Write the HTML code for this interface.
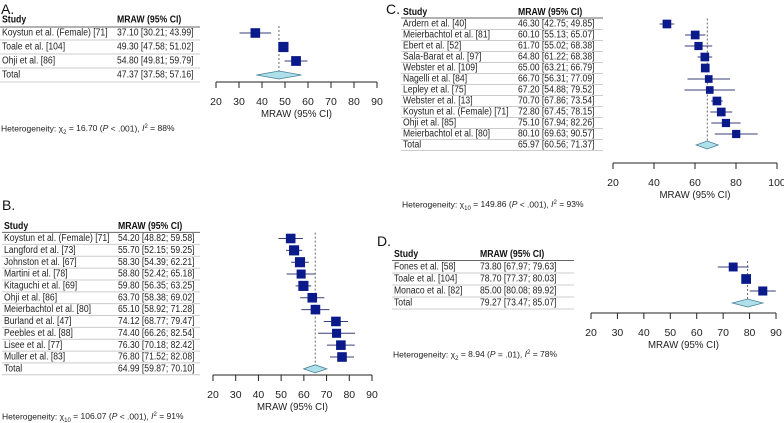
<!DOCTYPE html>
<html><head><meta charset="utf-8"><style>
html,body{margin:0;padding:0;background:#fff;}
svg{display:block;font-family:"Liberation Sans",Arial,sans-serif;}
</style></head><body>
<svg id="fig" width="784" height="423" viewBox="0 0 784 423" xmlns="http://www.w3.org/2000/svg"></svg>
<script>
// Panel A data
const aStudies = ["Koystun et al. (Female) [71]","Toale et al. [104]","Ohji et al. [86]"];
const aMean = [37.10,49.30,54.80];
const aLow = [30.21,47.58,49.81];
const aHigh = [43.99,51.02,59.79];
const aWeight = [32,36,33];
const aTotal = [47.37,37.58,57.16];
const aTicks = [20,30,40,50,60,70,80,90];
// Panel B data
const bStudies = ["Koystun et al. (Female) [71]","Langford et al. [73]","Johnston et al. [67]","Martini et al. [78]","Kitaguchi et al. [69]","Ohji et al. [86]","Meierbachtol et al. [80]","Burland et al. [47]","Peebles et al. [88]","Lisee et al. [77]","Muller et al. [83]"];
const bMean = [54.20,55.70,58.30,58.80,59.80,63.70,65.10,74.12,74.40,76.30,76.80];
const bLow = [48.82,52.15,54.39,52.42,56.35,58.38,58.92,68.77,66.26,70.18,71.52];
const bHigh = [59.58,59.25,62.21,65.18,63.25,69.02,71.28,79.47,82.54,82.42,82.08];
const bWeight = [9,10,10,8,10,9,9,9,8,9,9];
const bTotal = [64.99,59.87,70.10];
const bTicks = [20,30,40,50,60,70,80,90];
// Panel C data
const cStudies = ["Ardern et al. [40]","Meierbachtol et al. [81]","Ebert et al. [52]","Sala-Barat et al. [97]","Webster et al. [109]","Nagelli et al. [84]","Lepley et al. [75]","Webster et al. [13]","Koystun et al. (Female) [71]","Ohji et al. [85]","Meierbachtol et al. [80]"];
const cMean = [46.30,60.10,61.70,64.80,65.00,66.70,67.20,70.70,72.80,75.10,80.10];
const cLow = [42.75,55.13,55.02,61.22,63.21,56.31,54.88,67.86,67.45,67.94,69.63];
const cHigh = [49.85,65.07,68.38,68.38,66.79,77.09,79.52,73.54,78.15,82.26,90.57];
const cWeight = [9,9,8,9,9,7,7,9,9,8,8];
const cTotal = [65.97,60.56,71.37];
const cTicks = [20,40,60,80,100];
// Panel D data
const dStudies = ["Fones et al. [58]","Toale et al. [104]","Monaco et al. [82]"];
const dMean = [73.80,78.70,85.00];
const dLow = [67.97,77.37,80.08];
const dHigh = [79.63,80.03,89.92];
const dWeight = [31,37,32];
const dTotal = [79.27,73.47,85.07];
const dTicks = [20,30,40,50,60,70,80,90];

const NS="http://www.w3.org/2000/svg";
const svg=document.getElementById('fig');
function mk(tag,attrs,parent){const e=document.createElementNS(NS,tag);for(const k in attrs)e.setAttribute(k,attrs[k]);(parent||svg).appendChild(e);return e;}
function f2(v){return v.toFixed(2);}
function narrow(t,f){const L=t.getComputedTextLength();if(L>0){t.setAttribute('textLength',(L*f).toFixed(1));t.setAttribute('lengthAdjust','spacingAndGlyphs');}}

function panel(cfg){
  const g=mk('g',{});
  
  
  const lab=mk('text',{x:cfg.letterX,y:cfg.letterY,'font-size':14,fill:'#111'},g);
  lab.textContent=cfg.letter;
  
  
  const xs=v=>cfg.px0+(v-cfg.d0)/(cfg.d1-cfg.d0)*(cfg.px1-cfg.px0);
  const n=cfg.studies.length;
  const rowY=i=>cfg.firstY+i*cfg.rowH;
  const h1=mk('text',{x:cfg.studyX,y:cfg.headerY,'font-size':10,'font-weight':'bold',fill:'#111','dominant-baseline':'middle'},g);
  h1.textContent='Study';
  
  
  narrow(h1,0.87);
  const h2=mk('text',{x:cfg.valX,y:cfg.headerY,'font-size':10,'font-weight':'bold',fill:'#111','dominant-baseline':'middle'},g);
  h2.textContent='MRAW (95% CI)';
  
  
  narrow(h2,0.87);
  mk('line',{x1:cfg.studyX-2,x2:cfg.tableR,y1:cfg.headerY+cfg.rowH/2,y2:cfg.headerY+cfg.rowH/2,stroke:'#666','stroke-width':1},g);
  for(let i=0;i<=n;i++){
    const y=rowY(i);
    const isTot=i===n;
    const t1=mk('text',{x:cfg.studyX,y:y,'font-size':10,fill:'#222','dominant-baseline':'middle'},g);
    t1.textContent=isTot?'Total':cfg.studies[i];
    
    
    narrow(t1,0.86);
    const t2=mk('text',{x:cfg.valX,y:y,'font-size':10,fill:'#222','dominant-baseline':'middle'},g);
    t2.textContent=isTot?(f2(cfg.total[0])+' ['+f2(cfg.total[1])+'; '+f2(cfg.total[2])+']'):(f2(cfg.mean[i])+' ['+f2(cfg.low[i])+'; '+f2(cfg.high[i])+']');
    
    
    narrow(t2,0.86);
    mk('line',{x1:cfg.studyX-2,x2:cfg.tableR,y1:y+cfg.rowH/2,y2:y+cfg.rowH/2,stroke:'#ccc','stroke-width':1},g);
  }
  const dl=mk('line',{x1:xs(cfg.total[0]),x2:xs(cfg.total[0]),y1:rowY(0)-cfg.rowH/2,y2:rowY(n)+4,stroke:'#444','stroke-width':0.8,'stroke-dasharray':'2,2'},g);
  
  
  for(let i=0;i<n;i++){
    const y=rowY(i);
    const ci=mk('line',{x1:xs(cfg.low[i]),x2:xs(cfg.high[i]),y1:y,y2:y,stroke:'#3a3f7a','stroke-width':1},g);
    
    
    const s=Math.sqrt(cfg.weight[i])*cfg.sq;
    const sq=mk('rect',{x:xs(cfg.mean[i])-s/2,y:y-s/2,width:s,height:s,fill:'#0a1a8a'},g);
    
    
  }
  const ty=rowY(n);
  const dia=mk('polygon',{points:`${xs(cfg.total[1])},${ty} ${xs(cfg.total[0])},${ty-4} ${xs(cfg.total[2])},${ty} ${xs(cfg.total[0])},${ty+4}`,fill:'#aee0ea',stroke:'#4a7f99','stroke-width':0.8},g);
  
  
  const ax=mk('line',{x1:cfg.px0,x2:cfg.px1,y1:cfg.axisY,y2:cfg.axisY,stroke:'#222','stroke-width':1},g);
  
  
  cfg.ticks.forEach(t=>{
    mk('line',{x1:xs(t),x2:xs(t),y1:cfg.axisY,y2:cfg.axisY+6,stroke:'#222','stroke-width':1},g);
    const tl=mk('text',{x:xs(t),y:cfg.axisY+20,'font-size':10.5,fill:'#222','text-anchor':'middle','dominant-baseline':'middle'},g);
    tl.textContent=t;
    
    
  });
  const at=mk('text',{x:(cfg.px0+cfg.px1)/2,y:cfg.axisY+32,'font-size':10.5,fill:'#222','text-anchor':'middle','dominant-baseline':'middle'},g);
  at.textContent='MRAW (95% CI)';
  
  
  narrow(at,0.92);
  const ht=mk('text',{x:cfg.hetX,y:cfg.hetY,'font-size':8.5,fill:'#222','dominant-baseline':'middle'},g);
  
  
  ht.innerHTML='Heterogeneity: χ<tspan font-size="6" dy="3">'+cfg.df+'</tspan><tspan dy="-3"> = '+cfg.chi+' (</tspan><tspan font-style="italic">P</tspan> '+cfg.p+'), <tspan font-style="italic">I</tspan><tspan font-size="6" dy="-3">2</tspan><tspan dy="3"> = '+cfg.i2+'</tspan>';
}

panel({name:'panel-a',letter:'A.',letterX:1,letterY:14,studies:aStudies,mean:aMean,low:aLow,high:aHigh,weight:aWeight,total:aTotal,ticks:aTicks,
  studyX:2,valX:117,tableR:200,headerY:20,firstY:33,rowH:14,px0:216,px1:377,d0:20,d1:90,sq:1.7,axisY:82,hetX:1,hetY:129,df:'2',chi:'16.70',p:'< .001',i2:'88%'});
panel({name:'panel-b',letter:'B.',letterX:2,letterY:210,studies:bStudies,mean:bMean,low:bLow,high:bHigh,weight:bWeight,total:bTotal,ticks:bTicks,
  studyX:4,valX:118,tableR:200,headerY:226.5,firstY:238.5,rowH:11.85,px0:213,px1:372,d0:20,d1:90,sq:3.2,axisY:375,hetX:2,hetY:417,df:'10',chi:'106.07',p:'< .001',i2:'91%'});
panel({name:'panel-c',letter:'C.',letterX:386,letterY:14,studies:cStudies,mean:cMean,low:cLow,high:cHigh,weight:cWeight,total:cTotal,ticks:cTicks,
  studyX:403,valX:518,tableR:603,headerY:12.5,firstY:24,rowH:11,px0:613,px1:777,d0:20,d1:100,sq:2.9,axisY:163,hetX:402,hetY:205,df:'10',chi:'149.86',p:'< .001',i2:'93%'});
panel({name:'panel-d',letter:'D.',letterX:377,letterY:246,studies:dStudies,mean:dMean,low:dLow,high:dHigh,weight:dWeight,total:dTotal,ticks:dTicks,
  studyX:394,valX:480,tableR:574,headerY:254.5,firstY:267,rowH:12,px0:591,px1:776,d0:20,d1:90,sq:1.6,axisY:313,hetX:393,hetY:355,df:'2',chi:'8.94',p:'= .01',i2:'78%'});
</script>
</body></html>
